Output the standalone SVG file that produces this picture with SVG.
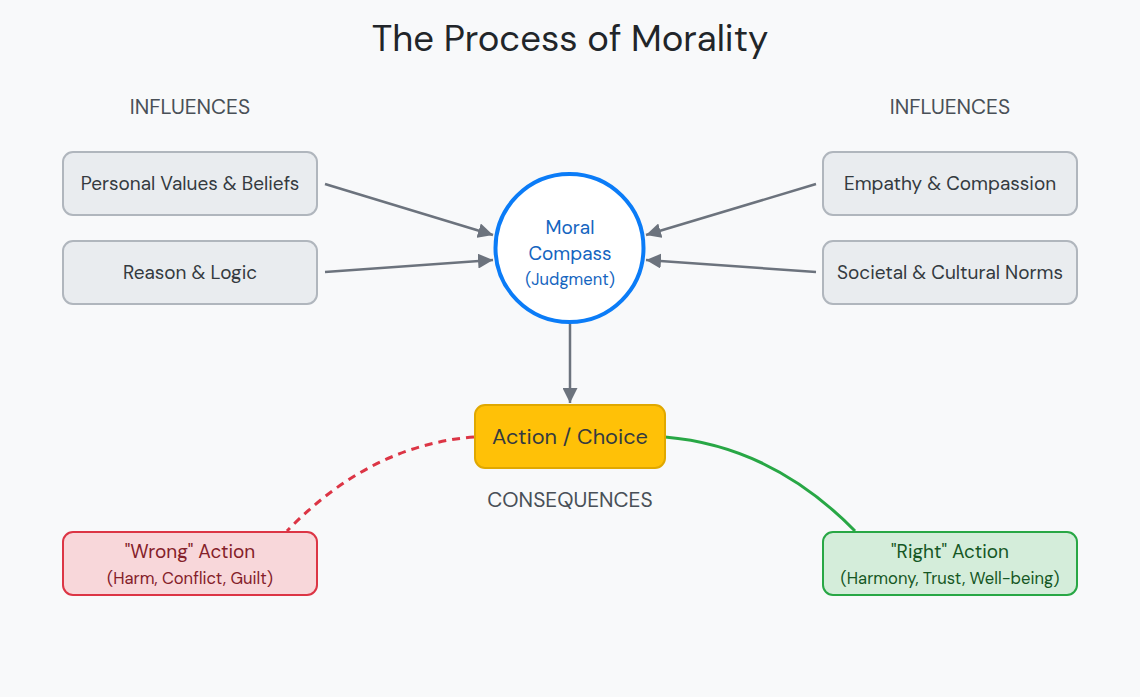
<svg xmlns="http://www.w3.org/2000/svg" width="1140" height="697" viewBox="0 0 1140 697">
<defs>
<style>
text{font-family:"DM Sans",Inter,"Noto Sans","Liberation Sans",sans-serif;}
.title{font-size:36.5px;fill:#212529;}
.sec{font-size:21px;fill:#495057;}
.gbox{fill:#e9ecef;stroke:#b0b6bd;stroke-width:2;}
.gtxt{font-size:19px;fill:#343a40;}
.conn{stroke:#6c737d;stroke-width:2.5;fill:none;}
</style>
<marker id="arr" viewBox="0 0 10 10" refX="10" refY="5" markerWidth="6" markerHeight="6" markerUnits="strokeWidth" orient="auto">
<path d="M0,0 L10,5 L0,10 z" fill="#6c737d"/>
</marker>
</defs>
<rect width="1140" height="697" fill="#f8f9fa"/>
<text class="title" x="570" y="51" text-anchor="middle">The Process of Morality</text>
<text class="sec" x="190" y="114" text-anchor="middle">INFLUENCES</text>
<text class="sec" x="950" y="114" text-anchor="middle">INFLUENCES</text>
<text class="sec" x="570" y="507" text-anchor="middle">CONSEQUENCES</text>

<g id="connectors">
<line class="conn" x1="325" y1="184" x2="493" y2="235" marker-end="url(#arr)"/>
<line class="conn" x1="325" y1="272" x2="493" y2="260" marker-end="url(#arr)"/>
<line class="conn" x1="816" y1="184" x2="646" y2="235" marker-end="url(#arr)"/>
<line class="conn" x1="816" y1="272" x2="646" y2="260" marker-end="url(#arr)"/>
<line class="conn" x1="570" y1="324" x2="570" y2="403" marker-end="url(#arr)"/>
<path d="M474,437 Q370,445 287,531" fill="none" stroke="#dc3545" stroke-width="3" stroke-dasharray="8,6"/>
<path d="M665,437 Q772,446 855,531" fill="none" stroke="#28a745" stroke-width="3"/>
</g>

<g id="personal">
<rect class="gbox" x="63" y="152" width="254" height="63" rx="10"/>
<text class="gtxt" x="190" y="190" text-anchor="middle">Personal Values &amp; Beliefs</text>
</g>
<g id="reason">
<rect class="gbox" x="63" y="241" width="254" height="63" rx="10"/>
<text class="gtxt" x="190" y="279" text-anchor="middle">Reason &amp; Logic</text>
</g>
<g id="empathy">
<rect class="gbox" x="823" y="152" width="254" height="63" rx="10"/>
<text class="gtxt" x="950" y="190" text-anchor="middle">Empathy &amp; Compassion</text>
</g>
<g id="societal">
<rect class="gbox" x="823" y="241" width="254" height="63" rx="10"/>
<text class="gtxt" x="950" y="279" text-anchor="middle">Societal &amp; Cultural Norms</text>
</g>

<g id="compass">
<circle cx="569.5" cy="248" r="74" fill="#ffffff" stroke="#0b7cf7" stroke-width="4"/>
<text x="570" y="234" text-anchor="middle" font-size="19" fill="#1565c0">Moral</text>
<text x="570" y="260" text-anchor="middle" font-size="19" fill="#1565c0">Compass</text>
<text x="570" y="285" text-anchor="middle" font-size="16.5" fill="#1565c0">(Judgment)</text>
</g>

<g id="action">
<rect x="475" y="405" width="190" height="63" rx="10" fill="#ffc107" stroke="#e0a800" stroke-width="2"/>
<text x="570" y="444" text-anchor="middle" font-size="21.7" fill="#343a40">Action / Choice</text>
</g>

<g id="wrong">
<rect x="63" y="532" width="254" height="63" rx="10" fill="#f8d7da" stroke="#dc3545" stroke-width="2"/>
<text x="190" y="558" text-anchor="middle" font-size="19" fill="#842029">"Wrong" Action</text>
<text x="190" y="584" text-anchor="middle" font-size="16.6" fill="#842029">(Harm, Conflict, Guilt)</text>
</g>

<g id="right">
<rect x="823" y="532" width="254" height="63" rx="10" fill="#d4edda" stroke="#28a745" stroke-width="2"/>
<text x="950" y="558" text-anchor="middle" font-size="19" fill="#155724">"Right" Action</text>
<text x="950" y="584" text-anchor="middle" font-size="16.6" fill="#155724">(Harmony, Trust, Well-being)</text>
</g>
</svg>
